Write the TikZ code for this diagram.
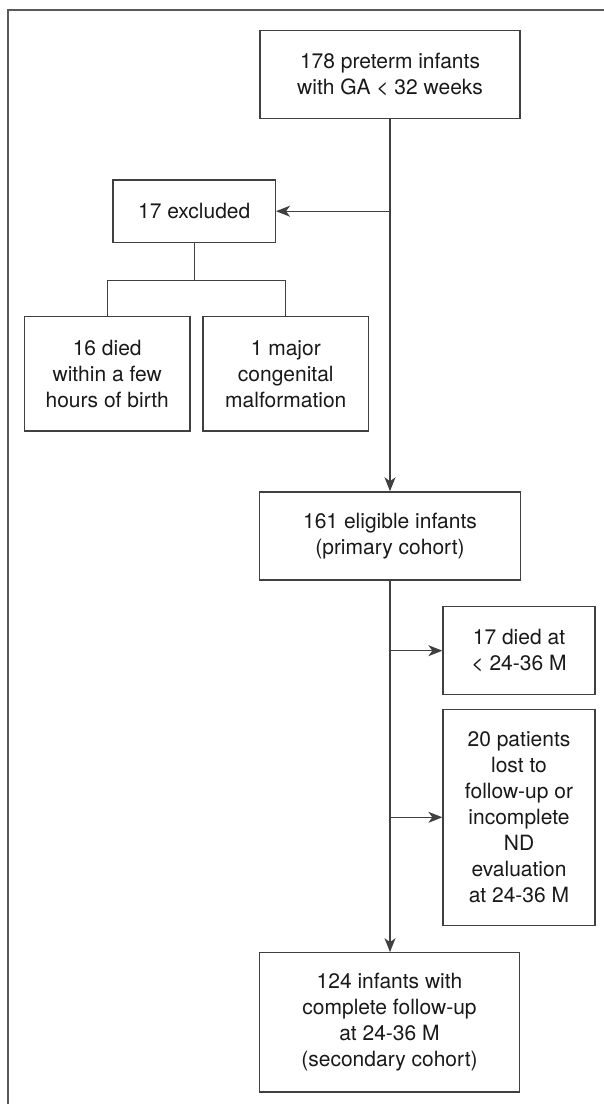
\documentclass[tikz,border=0pt]{standalone}
\usepackage{fontspec}
\setmainfont{TeX Gyre Heros}
\usetikzlibrary{arrows.meta}
\begin{document}
\begin{tikzpicture}[x=0.5pt,y=-0.5pt,
  box/.style={draw=black!75, line width=0.65pt, align=center, inner sep=0pt,
    text=black!90, font=\fontsize{10.5}{13}\selectfont},
  conn/.style={draw=black!75, line width=0.65pt},
  arr/.style={conn, -{Stealth[length=7pt,width=5.5pt,inset=2pt]}}]
\useasboundingbox (0,0) rectangle (604,1104);
\draw[black!65, line width=1pt] (8,1104) -- (8,10) -- (604,10);

\node[box, minimum width=130pt, minimum height=44pt] (top) at (390,74.7)
  {178 preterm infants\\with GA < 32 weeks};
\node[box, minimum width=81.2pt, minimum height=31.2pt] (excl) at (194.2,211.2)
  {17 excluded};
\node[box, minimum width=82.8pt, minimum height=57.2pt] (died16) at (107.2,373.9)
  {16 died\\within a few\\hours of birth};
\node[box, minimum width=82.8pt, minimum height=57.2pt] (major) at (285.8,373.9)
  {1 major\\congenital\\malformation};
\node[box, minimum width=130.7pt, minimum height=44pt] (elig) at (390,535.9)
  {161 eligible infants\\(primary cohort)};
\node[box, minimum width=76pt, minimum height=44pt] (died17) at (519,650.7)
  {17 died at\\< 24-36 M};
\node[box, minimum width=76pt, minimum height=108pt] (lost) at (519,817.3)
  {20 patients\\lost to\\follow-up or\\incomplete\\ND\\evaluation\\at 24-36 M};
\node[box, minimum width=130pt, minimum height=69.6pt] (final) at (389.5,1022.4)
  {124 infants with\\complete follow-up\\at 24-36 M\\(secondary cohort)};

\draw[arr] (top.south) -- (elig.north);
\draw[arr] (top.south |- excl.east) -- (excl.east);
\coordinate (bj) at (194.2,280.7);
\draw[conn] (excl.south) -- (bj);
\draw[conn] (died16.north) |- (bj) -| (major.north);
\draw[arr] (elig.south) -- (elig.south |- final.north);
\draw[arr] (elig.south |- died17.west) -- (died17.west);
\draw[arr] (elig.south |- lost.west) -- (lost.west);
\end{tikzpicture}
\end{document}
